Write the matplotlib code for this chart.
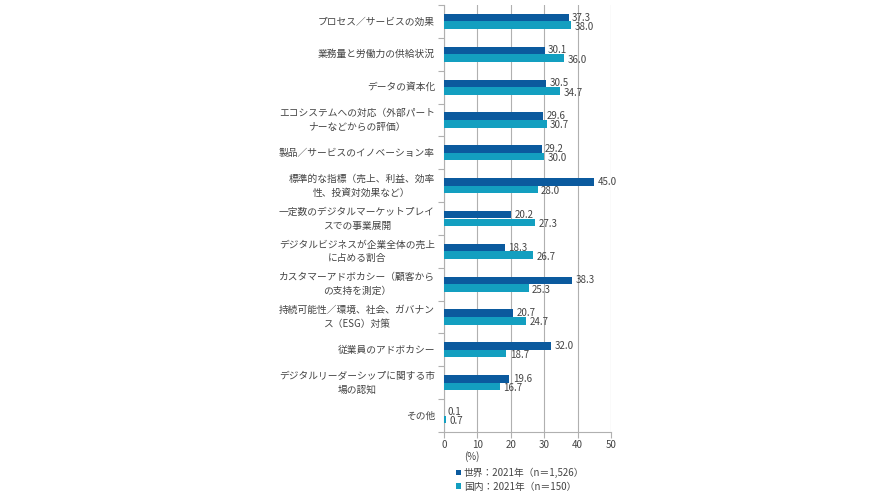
import matplotlib
matplotlib.use("Agg")
import matplotlib.pyplot as plt
import numpy as np

plt.rcParams['font.family'] = ['Noto Sans CJK JP', 'DejaVu Sans']

categories = [
    "プロセス／サービスの効果",
    "業務量と労働力の供給状況",
    "データの資本化",
    "エコシステムへの対応（外部パート\nナーなどからの評価）",
    "製品／サービスのイノベーション率",
    "標準的な指標（売上、利益、効率\n性、投資対効果など）",
    "一定数のデジタルマーケットプレイ\nスでの事業展開",
    "デジタルビジネスが企業全体の売上\nに占める割合",
    "カスタマーアドボカシー（顧客から\nの支持を測定）",
    "持続可能性／環境、社会、ガバナン\nス（ESG）対策",
    "従業員のアドボカシー",
    "デジタルリーダーシップに関する市\n場の認知",
    "その他",
]
world = [37.3, 30.1, 30.5, 29.6, 29.2, 45.0, 20.2, 18.3, 38.3, 20.7, 32.0, 19.6, 0.1]
japan = [38.0, 36.0, 34.7, 30.7, 30.0, 28.0, 27.3, 26.7, 25.3, 24.7, 18.7, 16.7, 0.7]
series_labels = ["世界：2021年（n＝1,526）", "国内：2021年（n＝150）"]
xticks = [0, 10, 20, 30, 40, 50]

c_world = "#0B5A9E"
c_japan = "#139FC0"
txt = "#444444"
grid = "#B0B0B0"

fig = plt.figure(figsize=(8.96, 5.04), dpi=100)
ax = fig.add_axes([444/896, 1-432/504, (611-444)/896, (432-5)/504])

n = len(categories)
y = np.arange(n)
h = 0.23
b1 = ax.barh(y - h/2, world, height=h, color=c_world, label=series_labels[0], zorder=3)
b2 = ax.barh(y + h/2, japan, height=h, color=c_japan, label=series_labels[1], zorder=3)

for yi, v in zip(y, world):
    ax.text(v + 1.0, yi - h/2, f"{v:.1f}", va="center", ha="left", fontsize=7, color=txt, zorder=4)
for yi, v in zip(y, japan):
    ax.text(v + 1.0, yi + h/2 + 0.05, f"{v:.1f}", va="center", ha="left", fontsize=7, color=txt, zorder=4)

ax.set_ylim(n - 0.5, -0.5)
ax.set_xlim(0, 50)
ax.set_xticks(xticks)
ax.set_xticklabels([str(t) for t in xticks], fontsize=7, color=txt)
ax.set_yticks(np.arange(n + 1) - 0.5, minor=False)
ax.set_yticklabels([])
ax.tick_params(axis="y", length=4, color=grid, width=0.8)
ax.tick_params(axis="x", length=4, color=grid, width=0.8, pad=2)
ax.grid(axis="x", color=grid, linewidth=0.8, zorder=0)
for s in ["top", "right"]:
    ax.spines[s].set_visible(False)
for s in ["left", "bottom"]:
    ax.spines[s].set_color(grid)
    ax.spines[s].set_linewidth(0.8)

for yi, lab in zip(y, categories):
    ax.text(-9.0/167*50, yi, lab, ha="right", va="center", multialignment="center",
            fontsize=7, color=txt, linespacing=1.5)

fig.text(472/896, 1-457/504, "(%)", ha="center", va="center", fontsize=7, color=txt)

fig.legend(handles=[b1, b2], labels=series_labels, loc="upper left",
           bbox_to_anchor=(451/896, 1-463/504), frameon=False, fontsize=7,
           handlelength=0.5, handleheight=0.5, handletextpad=0.3, labelspacing=0.35,
           borderpad=0, labelcolor=txt)

fig.savefig("out.png", dpi=100)
